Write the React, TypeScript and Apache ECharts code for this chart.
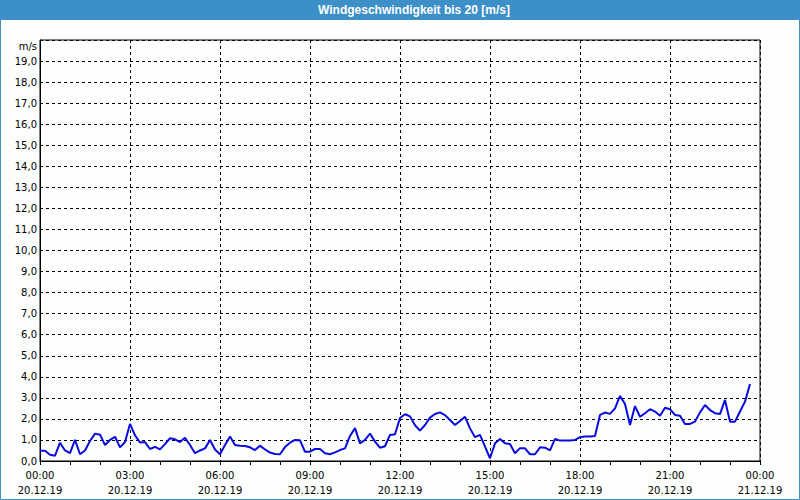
import React, { useEffect, useRef } from "react";
import * as echarts from "echarts";

const TITLE = "Windgeschwindigkeit bis 20 [m/s]";
const UNIT = "m/s";
const STEP_MINUTES = 10;
const DATE_START = "20.12.19";
const DATE_END = "21.12.19";
const WIND_SPEED = [
  0.49, 0.49, 0.3, 0.25, 0.87, 0.5, 0.37, 1.0, 0.32, 0.5,
  0.95, 1.3, 1.25, 0.76, 1.0, 1.15, 0.65, 0.9, 1.76, 1.22,
  0.88, 0.9, 0.57, 0.67, 0.55, 0.8, 1.08, 1.03, 0.9, 1.1,
  0.76, 0.37, 0.5, 0.6, 1.0, 0.55, 0.32, 0.76, 1.16, 0.76,
  0.73, 0.71, 0.65, 0.52, 0.73, 0.55, 0.4, 0.33, 0.32, 0.66,
  0.87, 1.0, 0.98, 0.44, 0.44, 0.57, 0.57, 0.37, 0.32, 0.41,
  0.52, 0.6, 1.19, 1.56, 0.84, 1.0, 1.3, 0.92, 0.63, 0.7,
  1.24, 1.27, 2.04, 2.22, 2.12, 1.7, 1.44, 1.71, 2.06, 2.23,
  2.31, 2.18, 1.95, 1.71, 1.9, 2.1, 1.55, 1.13, 1.24, 0.68,
  0.13, 0.84, 1.05, 0.84, 0.81, 0.37, 0.61, 0.6, 0.32, 0.32,
  0.65, 0.63, 0.5, 1.05, 0.97, 0.97, 0.97, 1.0, 1.13, 1.16,
  1.16, 1.19, 2.19, 2.3, 2.24, 2.5, 3.09, 2.71, 1.71, 2.61,
  2.1, 2.27, 2.46, 2.35, 2.15, 2.53, 2.46, 2.19, 2.15, 1.76,
  1.76, 1.87, 2.31, 2.66, 2.42, 2.27, 2.23, 2.9, 1.87, 1.87,
  2.35, 2.82, 3.66,
];

const TITLE_FONT = "'Liberation Sans', Arial, sans-serif";
const FONT = "'DejaVu Sans', Verdana, sans-serif";

export default function App() {
  const ref = useRef<HTMLDivElement>(null);
  useEffect(() => {
    document.body.style.margin = "0";
    const chart = echarts.init(ref.current!, null, { renderer: "svg" });
    const data = WIND_SPEED.map((v, i) => [i * STEP_MINUTES, v]);
    const pad = (n: number) => (n < 10 ? "0" + n : "" + n);
    chart.setOption({
      animation: false,
      backgroundColor: "#fcfefc",
      textStyle: { fontFamily: FONT },
      graphic: [
        {
          type: "rect",
          shape: { x: 0, y: 0, width: 800, height: 20 },
          style: { fill: "#3c8fc7" },
          silent: true,
        },
        {
          type: "rect",
          shape: { x: 0.5, y: 0.5, width: 799, height: 499 },
          style: { fill: "none", stroke: "#3c8fc7", lineWidth: 1 },
          silent: true,
        },
        {
          type: "text",
          x: 414,
          y: 10,
          style: {
            text: TITLE,
            fill: "#ffffff",
            font: "bold 12px " + TITLE_FONT,
            textAlign: "center",
            textVerticalAlign: "middle",
          },
        },
        {
          type: "text",
          x: 37,
          y: 46,
          style: {
            text: UNIT,
            fill: "#000000",
            font: "10px " + FONT,
            textAlign: "right",
            textVerticalAlign: "middle",
          },
        },
      ],
      grid: {
        left: 40,
        right: 40,
        top: 40,
        bottom: 39,
        show: true,
        borderColor: "#000",
        borderWidth: 1,
        backgroundColor: "transparent",
      },
      xAxis: {
        type: "value",
        min: 0,
        max: 1440,
        interval: 180,
        axisLine: { show: true, lineStyle: { color: "#000", width: 1 } },
        axisTick: { show: true, length: 4, lineStyle: { color: "#000" } },
        minorTick: { show: true, splitNumber: 3, length: 4, lineStyle: { color: "#000" } },
        splitLine: { show: true, lineStyle: { color: "#000", type: [3, 3], width: 1 } },
        axisLabel: {
          color: "#000",
          fontSize: 10,
          fontFamily: FONT,
          margin: 7,
          lineHeight: 15,
          showMinLabel: true,
          showMaxLabel: true,
          hideOverlap: false,
          formatter: (v: number) => {
            const h = Math.floor(v / 60) % 24;
            const m = v % 60;
            const d = v >= 1440 ? DATE_END : DATE_START;
            return pad(h) + ":" + pad(m) + "\n" + d;
          },
        },
      },
      yAxis: {
        type: "value",
        min: 0,
        max: 20,
        interval: 1,
        axisLine: { show: true, lineStyle: { color: "#000" } },
        axisTick: { show: false },
        splitLine: { show: true, lineStyle: { color: "#000", type: [3, 3], width: 1 } },
        axisLabel: {
          color: "#000",
          fontSize: 10,
          fontFamily: FONT,
          margin: 3,
          formatter: (v: number) => (v >= 20 ? "" : v.toFixed(1).replace(".", ",")),
        },
      },
      series: [
        {
          type: "line",
          data,
          showSymbol: false,
          symbol: "none",
          lineStyle: { color: "#0a0ae0", width: 2 },
        },
      ],
    });
    return () => chart.dispose();
  }, []);
  return <div ref={ref} style={{ width: 800, height: 500 }} />;
}
